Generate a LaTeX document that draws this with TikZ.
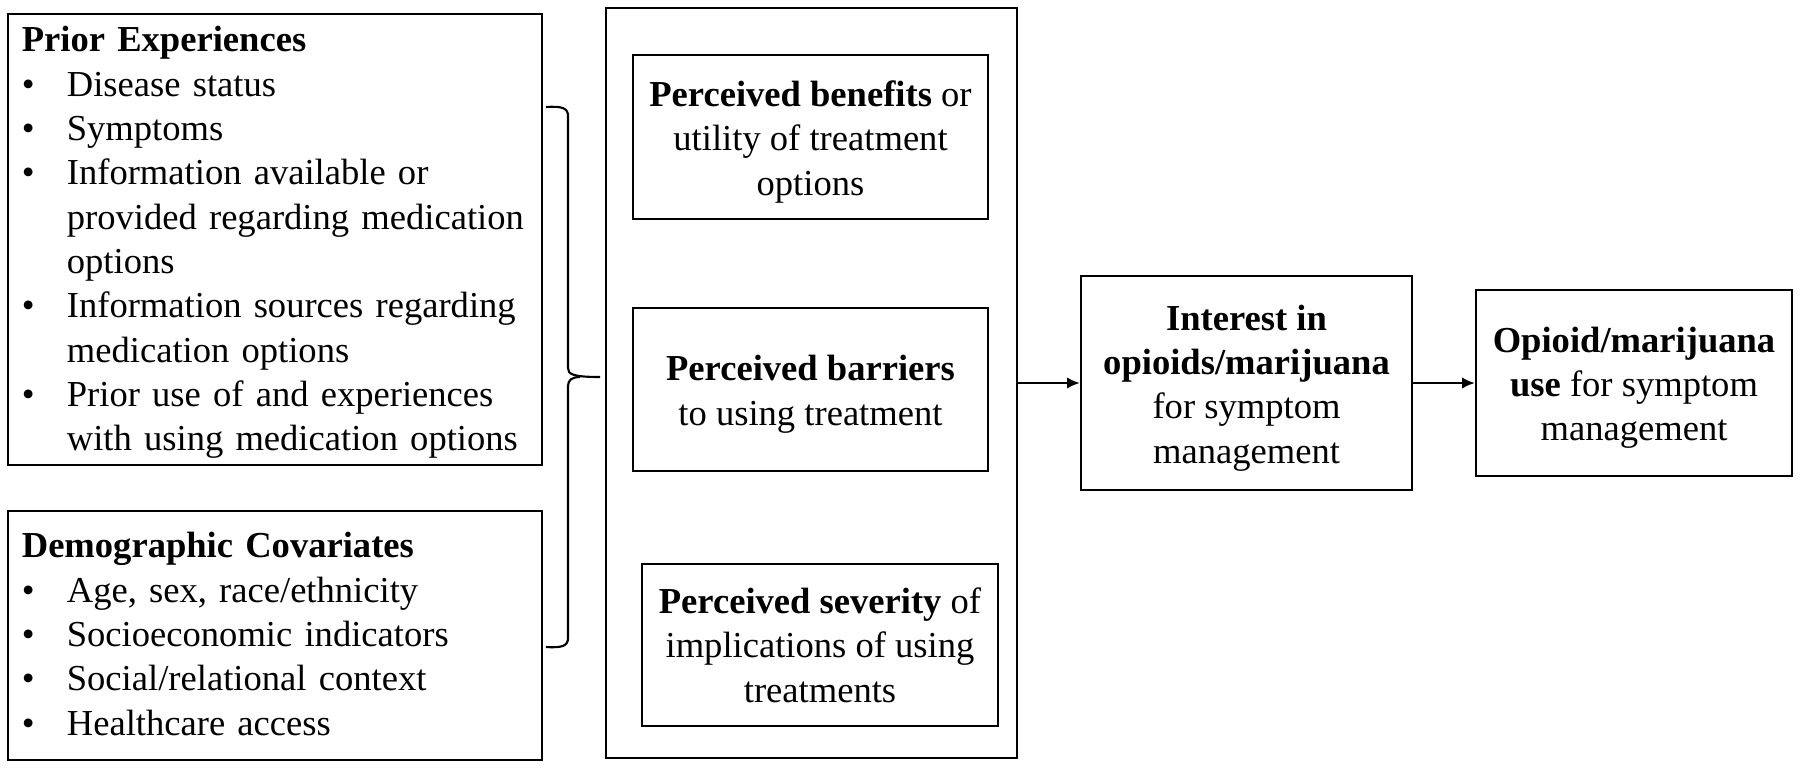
\documentclass[tikz,border=0pt]{standalone}
\usepackage{fontspec}
\setmainfont{Liberation Serif}
\usetikzlibrary{arrows.meta,positioning}

\begin{document}
\begin{tikzpicture}[
    x=0.01cm, y=-0.01cm,
    >={Latex[length=3.6pt,width=3.2pt]},
    font=\fontsize{10.4}{12.6}\selectfont,
    block/.style={
		rectangle,
		draw=black,
		line width=0.6pt,
		inner sep=0pt,
		fill=white
	},
	factor/.style={
		block,
		align=left,
		inner xsep=0.14cm,
		text width=5.06cm,
		minimum width=5.34cm
	},
	belief/.style={
		block,
		align=center,
		minimum width=3.55cm,
		minimum height=1.63cm
	},
	outcome/.style={
		block,
		align=center
	}
  ]
  \useasboundingbox (0,0) rectangle (1800,769);

    % left column: the two groups of factors
  \node [factor, minimum height=4.51cm] (prior) at (275,239.5)
 {%
 \begin{tabular}{@{}p{0.45cm}@{}l@{}}
  \multicolumn{2}{@{}l@{}}{\rule{0pt}{10.5pt}\textbf{Prior Experiences}}\\
  \textbullet & Disease status\\
  \textbullet & Symptoms\\
  \textbullet & Information available or\\
   & provided regarding medication\\
   & options\\
  \textbullet & Information sources regarding\\
   & medication options\\
  \textbullet & Prior use of and experiences\\
   & with using medication options
 \end{tabular}
 };

  \node [factor, minimum height=2.49cm] (demo) at (275,635.5)
 {%
 \begin{tabular}{@{}p{0.45cm}@{}l@{}}
  \multicolumn{2}{@{}l@{}}{\rule{0pt}{10pt}\textbf{Demographic Covariates}}\\
  \textbullet & Age, sex, race/ethnicity\\
  \textbullet & Socioeconomic indicators\\
  \textbullet & Social/relational context\\
  \textbullet & Healthcare access
 \end{tabular}
 };

    % middle column: perceptions
  \node [block, minimum width=4.11cm, minimum height=7.5cm] (percept) at (811.5,383) {};

  \node [belief, minimum height=1.64cm] (benefit) at (810.5,137)
 {\rule{0pt}{10pt}\textbf{Perceived benefits} or\\ utility of treatment\\ options};

  \node [belief] (barrier) at (810.5,389.5)
 {\rule{0pt}{10pt}\textbf{Perceived barriers}\\ to using treatment};

  \node [belief, minimum width=3.56cm, minimum height=1.62cm] (severity) at (820,645)
 {\textbf{Perceived severity} of\\ implications of using\\ treatments};

    % right: interest and use
  \node [outcome, minimum width=3.31cm, minimum height=2.14cm] (interest) at (1246.5,383)
 {\rule{0pt}{10pt}\textbf{Interest in}\\ \textbf{opioids/marijuana}\\ for symptom\\ management};

  \node [outcome, minimum width=3.16cm, minimum height=1.86cm] (use) at (1634,383)
 {\rule{0pt}{10pt}\textbf{Opioid/marijuana}\\ \textbf{use} for symptom\\ management};

    % brace joining the left boxes
  \draw [line width=0.6pt] (546,107) .. controls (562,106) and (568,108) .. (568,116)
    -- (568,368) .. controls (568,374) and (572,377) .. (600,377);
  \draw [line width=0.6pt] (568,386) .. controls (568,380) and (572,377) .. (580,377);
  \draw [line width=0.6pt] (568,386) -- (568,638)
    .. controls (568,646) and (562,648) .. (546,647);

  \draw [line width=0.6pt, ->] (percept) -- (interest);
  \draw [line width=0.6pt, ->] (interest) -- (use);

\end{tikzpicture}
\end{document}
